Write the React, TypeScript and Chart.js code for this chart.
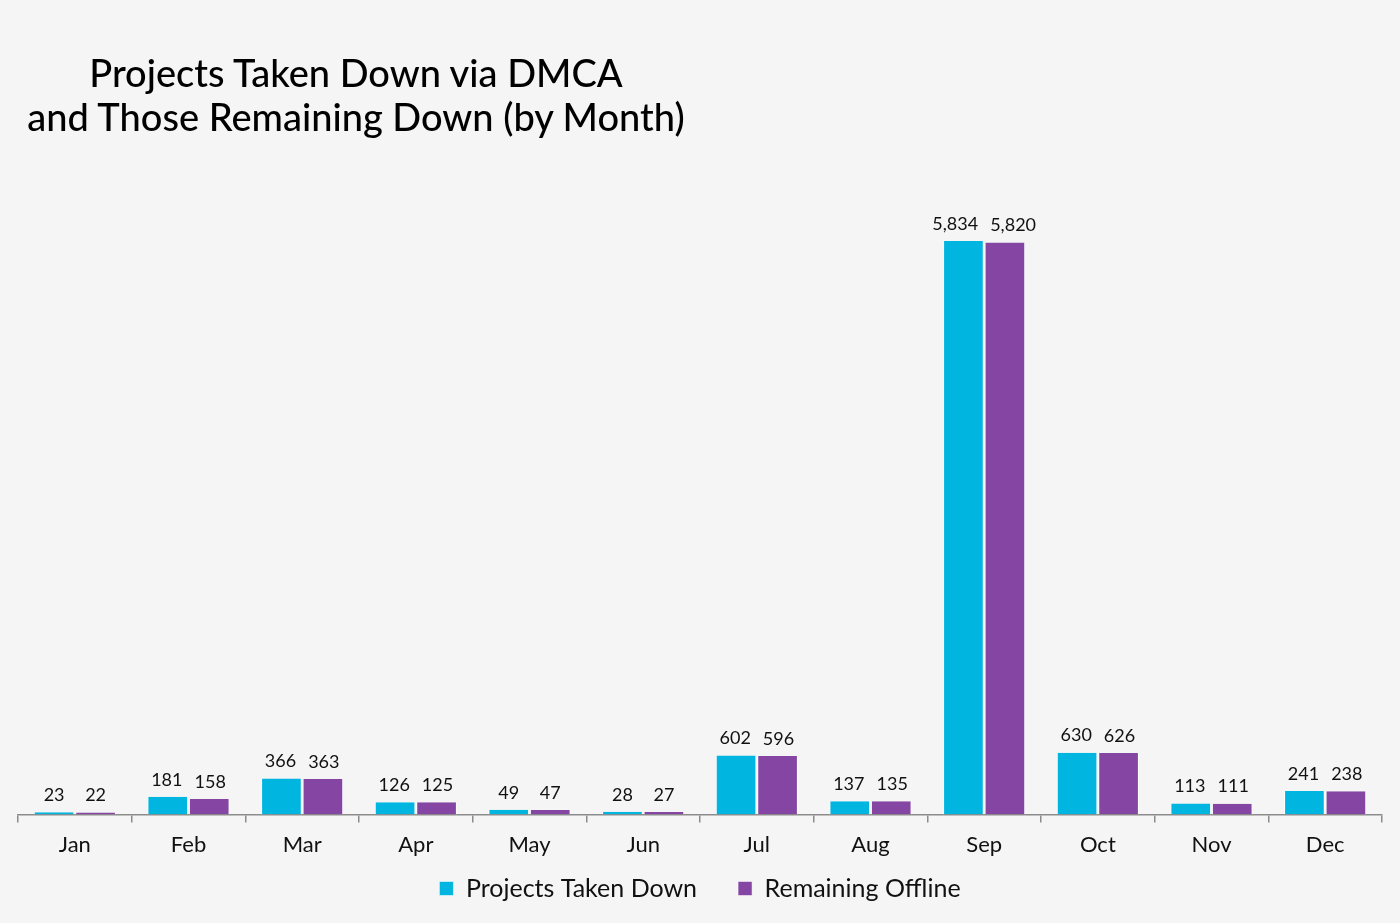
import React, { useEffect, useRef } from "react";
import { Chart, registerables } from "chart.js";

Chart.register(...registerables);

const months = ["Jan", "Feb", "Mar", "Apr", "May", "Jun", "Jul", "Aug", "Sep", "Oct", "Nov", "Dec"];
const takenDown = [23, 181, 366, 126, 49, 28, 602, 137, 5834, 630, 113, 241];
const remainingOffline = [22, 158, 363, 125, 47, 27, 596, 135, 5820, 626, 111, 238];
const seriesNames = ["Projects Taken Down", "Remaining Offline"];
const titleLines = ["Projects Taken Down via DMCA", "and Those Remaining Down (by Month)"];

const BLUE = "#00b5e0";
const PURPLE = "#8446a2";
const FONT = "Lato, 'Open Sans', sans-serif";

const valueLabels = {
  id: "valueLabels",
  afterDatasetsDraw(chart: any) {
    const ctx = chart.ctx;
    ctx.save();
    ctx.font = `18px ${FONT}`;
    ctx.fillStyle = "#111";
    ctx.textAlign = "center";
    ctx.textBaseline = "bottom";
    const n = chart.data.labels.length;
    for (let i = 0; i < n; i++) {
      const items = chart.data.datasets.map((ds: any, di: number) => {
        const bar = chart.getDatasetMeta(di).data[i];
        const text = ds.data[i].toLocaleString("en-US");
        return { text, x: bar.x, y: bar.y, w: ctx.measureText(text).width };
      });
      if (items.length === 2) {
        const need = (items[0].w + items[1].w) / 2 + 12;
        const have = items[1].x - items[0].x;
        if (have < need) {
          const d = (need - have) / 2;
          items[0].x -= d;
          items[1].x += d;
        }
      }
      items.forEach((it: any) => ctx.fillText(it.text, it.x, it.y - 8));
    }
    ctx.restore();
  },
};

export default function App() {
  const ref = useRef<HTMLCanvasElement | null>(null);
  useEffect(() => {
    if (!ref.current) return;
    const chart = new Chart(ref.current, {
      type: "bar",
      data: {
        labels: months,
        datasets: [
          {
            label: seriesNames[0],
            data: takenDown,
            backgroundColor: BLUE,
            borderColor: "#ffffff",
            borderWidth: { top: 0, left: 1, right: 1, bottom: 0 },
            borderSkipped: false,
          },
          {
            label: seriesNames[1],
            data: remainingOffline,
            backgroundColor: PURPLE,
            borderColor: "#ffffff",
            borderWidth: { top: 0, left: 1, right: 1, bottom: 0 },
            borderSkipped: false,
          },
        ],
      },
      options: {
        animation: false,
        responsive: false,
        maintainAspectRatio: false,
        layout: { padding: { left: 18, right: 18, top: 241, bottom: 12 } },
        datasets: { bar: { categoryPercentage: 0.73, barPercentage: 0.98 } },
        scales: {
          x: {
            grid: {
              display: true,
              offset: true,
              drawOnChartArea: false,
              drawTicks: true,
              tickLength: 8,
              color: "#8c8c8c",
              lineWidth: 1.5,
            },
            border: { display: true, color: "#8c8c8c", width: 1.5 },
            ticks: { color: "#111", font: { family: FONT, size: 22 }, padding: 9 },
          },
          y: {
            display: false,
            min: 0,
            max: 5834,
          },
        },
        plugins: {
          title: { display: false },
          tooltip: { enabled: false },
          legend: {
            position: "bottom",
            labels: {
              usePointStyle: true,
              pointStyle: "rect",
              boxWidth: 14,
              boxHeight: 14,
              color: "#111",
              font: { family: FONT, size: 25 },
              padding: 9,
              generateLabels: (c: any) => {
                const items = Chart.defaults.plugins.legend.labels.generateLabels(c);
                return items.map((it: any, i: number) =>
                  i < items.length - 1 ? { ...it, text: it.text + "     " } : it
                );
              },
            },
          },
        },
      },
      plugins: [valueLabels],
    });
    return () => chart.destroy();
  }, []);

  return (
    <div style={{ position: "fixed", left: 0, top: 0, width: 1400, height: 923, background: "#f5f5f5" }}>
      <canvas ref={ref} width={1400} height={923} style={{ position: "absolute", left: 0, top: 0 }} />
      <div
        style={{
          position: "absolute",
          left: 0,
          top: 50,
          width: 712,
          textAlign: "center",
          fontFamily: FONT,
          fontSize: 38,
          lineHeight: "44px",
          color: "#000",
          fontWeight: 500,
        }}
      >
        {titleLines.map((t) => (
          <div key={t}>{t}</div>
        ))}
      </div>
    </div>
  );
}
